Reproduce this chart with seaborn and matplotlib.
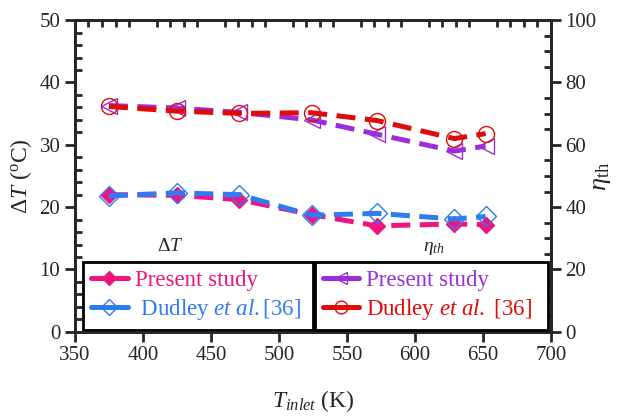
import matplotlib

matplotlib.use("Agg")
import matplotlib.pyplot as plt
import pandas as pd
import seaborn as sns
from matplotlib.ticker import MultipleLocator

# inlet temperature (K)
t_inlet = [375, 425, 471, 524, 572, 629, 652]

# temperature rise (deg C)
dt_present = [22.0, 21.9, 21.2, 18.8, 17.0, 17.3, 17.2]
dt_dudley = [21.8, 22.3, 22.0, 18.7, 19.0, 18.1, 18.5]

# thermal efficiency (%)
eta_present = [72.6, 71.8, 70.4, 68.0, 63.4, 58.0, 59.6]
eta_dudley = [72.3, 70.8, 70.1, 70.3, 67.8, 62.0, 63.6]

sns.set_style("ticks")
plt.rcParams["font.family"] = ["Liberation Serif", "DejaVu Serif"]
plt.rcParams["mathtext.fontset"] = "custom"
plt.rcParams["mathtext.rm"] = "Liberation Serif"
plt.rcParams["mathtext.it"] = "Liberation Serif:italic"
plt.rcParams["axes.linewidth"] = 2.0

PINK = "#F0147F"
BLUE = "#2F7BF2"
PURPLE = "#9A2FD8"
RED = "#E00A0A"

df = pd.DataFrame({
    "t_inlet": t_inlet,
    "dt_present": dt_present,
    "dt_dudley": dt_dudley,
    "eta_present": eta_present,
    "eta_dudley": eta_dudley,
})

fig = plt.figure(figsize=(6.19, 4.20), dpi=100)
ax = fig.add_axes([0.121, 0.21, 0.769, 0.742])
ax2 = ax.twinx()


def draw(axis, col, color, marker, filled, label, ms):
    sns.lineplot(
        data=df, x="t_inlet", y=col, ax=axis, color=color, label=label,
        marker=marker, markersize=ms, linewidth=3.6, linestyle="--",
        markerfacecolor=color if filled else "none", markeredgecolor=color,
        markeredgewidth=1.0, legend=False,
    )
    axis.lines[-1].set_dashes((3.8, 1.9))


draw(ax, "dt_present", PINK, "D", True, "Present study", 8.5)
draw(ax, "dt_dudley", BLUE, "D", False, " Dudley $\\it{et\\ al.}$[36]", 10)
draw(ax2, "eta_present", PURPLE, "<", False, "Present study", 11)
draw(ax2, "eta_dudley", RED, "o", False, "Dudley $\\it{et\\ al.}$ [36]", 11.5)

ax.set_xlim(350, 700)
ax.set_ylim(0, 50)
ax2.set_ylim(0, 100)
ax.xaxis.set_major_locator(MultipleLocator(50))
ax.xaxis.set_minor_locator(MultipleLocator(10))
ax.yaxis.set_major_locator(MultipleLocator(10))
ax.yaxis.set_minor_locator(MultipleLocator(2))
ax2.yaxis.set_major_locator(MultipleLocator(20))
ax2.yaxis.set_minor_locator(MultipleLocator(5))

ax.tick_params(which="major", direction="out", length=7, width=2, labelsize=15)
ax.tick_params(which="minor", direction="in", length=5, width=2)
ax.tick_params(axis="x", which="minor", bottom=True, top=True)
ax2.tick_params(which="major", direction="out", length=7, width=2, labelsize=15)
ax2.tick_params(which="minor", direction="in", length=5, width=2)

ax.set_xlabel("$T_{inlet}$ (K)", fontsize=17, labelpad=16)
ax.set_ylabel("$\\mathit{\\Delta T}$ ($^{\\rm o}$C)", fontsize=17, labelpad=4)
ax2.set_ylabel("$\\eta_{\\rm th}$", fontsize=19, ha="center", va="center")
ax2.yaxis.set_label_coords(1.108, 0.5)

leg_kw = dict(fontsize=16.5, frameon=True, fancybox=False, handlelength=1.6,
              handletextpad=0.3, borderpad=0.35, labelspacing=0.25,
              markerscale=0.8, mode="expand", borderaxespad=0)
leg1 = ax.legend(handles=ax.lines[:2], loc="lower left",
                 bbox_to_anchor=(0.017, 0.006, 0.483, 0.218), **leg_kw)
leg2 = ax2.legend(handles=ax2.lines[:2], loc="lower left",
                  bbox_to_anchor=(0.504, 0.006, 0.49, 0.218), **leg_kw)
for leg, colors in ((leg1, (PINK, BLUE)), (leg2, (PURPLE, RED))):
    frame = leg.get_frame()
    frame.set_edgecolor("black")
    frame.set_linewidth(2.0)
    frame.set_alpha(1)
    for text, c in zip(leg.get_texts(), colors):
        text.set_color(c)
    for line in leg.get_lines():
        line.set_linestyle("-")

ax.text(0.2, 0.245, "$\\mathit{\\Delta T}$", transform=ax.transAxes,
        fontsize=14, ha="center", va="bottom")
ax.text(0.755, 0.24, "$\\eta_{th}$", transform=ax.transAxes, fontsize=14,
        ha="center", va="bottom")

fig.savefig("out.png", dpi=100)
